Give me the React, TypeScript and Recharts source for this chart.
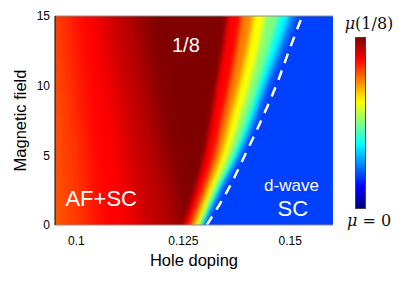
import React from "react";
import {
  ComposedChart,
  Area,
  Line,
  XAxis,
  YAxis,
  CartesianGrid,
  ReferenceLine,
  ReferenceDot,
} from "recharts";

const fieldH = [0, 2.5, 5, 7.5, 10, 12.5, 15];

// AF+SC side: hole doping where each shade begins
const redOrangeEdge = [0.0966, 0.0959, 0.0952, 0.0948, 0.0941, 0.0934, 0.0927];
const redEdge = [0.1037, 0.1029, 0.1022, 0.1013, 0.1006, 0.0997, 0.099];
const crimsonEdge = [0.1144, 0.1132, 0.1118, 0.1107, 0.1093, 0.1079, 0.1067];
const darkRedEdge = [0.1235, 0.1219, 0.12, 0.1184, 0.117, 0.1156, 0.1144];

// collapse of mu towards the d-wave SC side
const jetRedEdge = [0.1251, 0.1278, 0.13, 0.1315, 0.1328, 0.1342, 0.1353];
const jetOrangeEdge = [0.1266, 0.1296, 0.1322, 0.134, 0.1357, 0.1373, 0.1385];
const jetYellowEdge = [0.1277, 0.1308, 0.1338, 0.1359, 0.138, 0.1399, 0.1413];
const jetGreenEdge = [0.1287, 0.1319, 0.1354, 0.138, 0.1404, 0.1425, 0.1441];
const jetCyanEdge = [0.1294, 0.1329, 0.1368, 0.1399, 0.1425, 0.145, 0.1474];
const jetSkyEdge = [0.1298, 0.1336, 0.1378, 0.1411, 0.1439, 0.1469, 0.1497];
const jetBlueEdge = [0.1302, 0.134, 0.1385, 0.142, 0.145, 0.1483, 0.1513];

// dashed phase boundary
const boundary = [0.1305, 0.1354, 0.1394, 0.1432, 0.1467, 0.1497, 0.1528];

const dopingTicks = [0.1, 0.125, 0.15];
const fieldTicks = [0, 5, 10, 15];

const rows = fieldH.map((h, i) => ({
  h,
  redOrange: redOrangeEdge[i],
  red: redEdge[i],
  crimson: crimsonEdge[i],
  darkRed: darkRedEdge[i],
  jRed: jetRedEdge[i],
  jOrange: jetOrangeEdge[i],
  jYellow: jetYellowEdge[i],
  jGreen: jetGreenEdge[i],
  jCyan: jetCyanEdge[i],
  jSky: jetSkyEdge[i],
  jBlue: jetBlueEdge[i],
  boundary: boundary[i],
}));

const leftBands = [
  { key: "redOrange", color: "#ff3a00" },
  { key: "red", color: "#ff0000" },
  { key: "crimson", color: "#c00000" },
  { key: "darkRed", color: "#800000" },
];

const jetBands = [
  { key: "jRed", color: "#ff0000" },
  { key: "jOrange", color: "#ff8000" },
  { key: "jYellow", color: "#ffff00" },
  { key: "jGreen", color: "#80ff80" },
  { key: "jCyan", color: "#00ffff" },
  { key: "jSky", color: "#0088ff" },
  { key: "jBlue", color: "#0040ff" },
];

const sans = "'Liberation Sans', Arial, Helvetica, sans-serif";
const serif = "'DejaVu Serif', 'Liberation Serif', serif";

const tickStyle = { fill: "#000", fontSize: 12, fontFamily: sans };

const inPlotLabel = (value: string, size: number) => ({
  value,
  position: "center" as const,
  fill: "#fff",
  fontSize: size,
  fontFamily: sans,
});

export default function App() {
  return (
    <div style={{ position: "relative", width: 407, height: 273 }}>
      <ComposedChart
        width={330}
        height={273}
        data={rows}
        layout="vertical"
        margin={{ top: 8, right: 5, left: 0, bottom: 0 }}
      >
        <defs>
          <filter id="blurL" x="-30%" y="0%" width="160%" height="100%">
            <feGaussianBlur stdDeviation="11 0" />
          </filter>
          <filter id="blurT" x="-30%" y="0%" width="160%" height="100%">
            <feGaussianBlur stdDeviation="2.5 0" />
          </filter>
        </defs>
        <CartesianGrid
          fill="#ff6400"
          stroke="none"
          horizontal={false}
          vertical={false}
        />
        {leftBands.map((b) => (
          <Area
            key={b.key}
            dataKey={b.key}
            type="monotone"
            baseValue={0.175}
            fill={b.color}
            fillOpacity={1}
            stroke="none"
            filter="url(#blurL)"
            dot={false}
            activeDot={false}
            isAnimationActive={false}
          />
        ))}
        {jetBands.map((b) => (
          <Area
            key={b.key}
            dataKey={b.key}
            type="monotone"
            baseValue={0.175}
            fill={b.color}
            fillOpacity={1}
            stroke="none"
            filter="url(#blurT)"
            dot={false}
            activeDot={false}
            isAnimationActive={false}
          />
        ))}
        <Line
          dataKey="boundary"
          type="monotone"
          stroke="#fff"
          strokeWidth={2.5}
          strokeDasharray="10 8"
          dot={false}
          activeDot={false}
          isAnimationActive={false}
        />
        <ReferenceDot x={0.1256} y={12.9} r={0} fill="none" stroke="none" label={inPlotLabel("1/8", 20)} />
        <ReferenceDot x={0.1058} y={1.9} r={0} fill="none" stroke="none" label={inPlotLabel("AF+SC", 22)} />
        <ReferenceDot x={0.1503} y={2.9} r={0} fill="none" stroke="none" label={inPlotLabel("d-wave", 17)} />
        <ReferenceDot x={0.1506} y={1.2} r={0} fill="none" stroke="none" label={inPlotLabel("SC", 22)} />
        <ReferenceLine y={15} stroke="#8c8c8c" />
        <XAxis
          type="number"
          domain={[0.095, 0.16]}
          allowDataOverflow
          ticks={dopingTicks}
          tick={tickStyle}
          tickLine={false}
          tickSize={0}
          tickMargin={11}
          height={56}
          axisLine={{ stroke: "#8c8c8c" }}
          label={{
            value: "Hole doping",
            position: "insideBottom",
            offset: 15,
            fill: "#000",
            fontSize: 16.5,
            fontFamily: sans,
          }}
        />
        <YAxis
          type="number"
          dataKey="h"
          domain={[0, 15]}
          reversed
          allowDataOverflow
          ticks={fieldTicks}
          tick={tickStyle}
          tickLine={false}
          tickSize={0}
          tickMargin={5}
          width={47}
          axisLine={{ stroke: "#000" }}
          label={{
            value: "Magnetic field",
            angle: -90,
            position: "insideLeft",
            offset: 12,
            fill: "#000",
            fontSize: 16.5,
            fontFamily: sans,
            style: { textAnchor: "middle" },
          }}
        />
      </ComposedChart>
      <div
        style={{
          position: "absolute",
          left: 331,
          top: 7,
          width: 60,
          textAlign: "center",
          fontFamily: serif,
          fontSize: 16,
          lineHeight: "18px",
          color: "#111",
        }}
      >
        <i>μ</i>(1/8)
      </div>
      <div
        style={{
          position: "absolute",
          left: 347,
          top: 29,
          width: 11,
          height: 172,
          boxSizing: "border-box",
          border: "1px solid #444",
          background:
            "linear-gradient(to top, #000080 0%, #0000ff 12.5%, #00ffff 37.5%, #ffff00 62.5%, #ff0000 87.5%, #800000 100%)",
        }}
      />
      <div
        style={{
          position: "absolute",
          left: 331,
          top: 204,
          width: 60,
          textAlign: "center",
          fontFamily: serif,
          fontSize: 16,
          lineHeight: "18px",
          color: "#111",
        }}
      >
        <i>μ</i> = 0
      </div>
    </div>
  );
}
